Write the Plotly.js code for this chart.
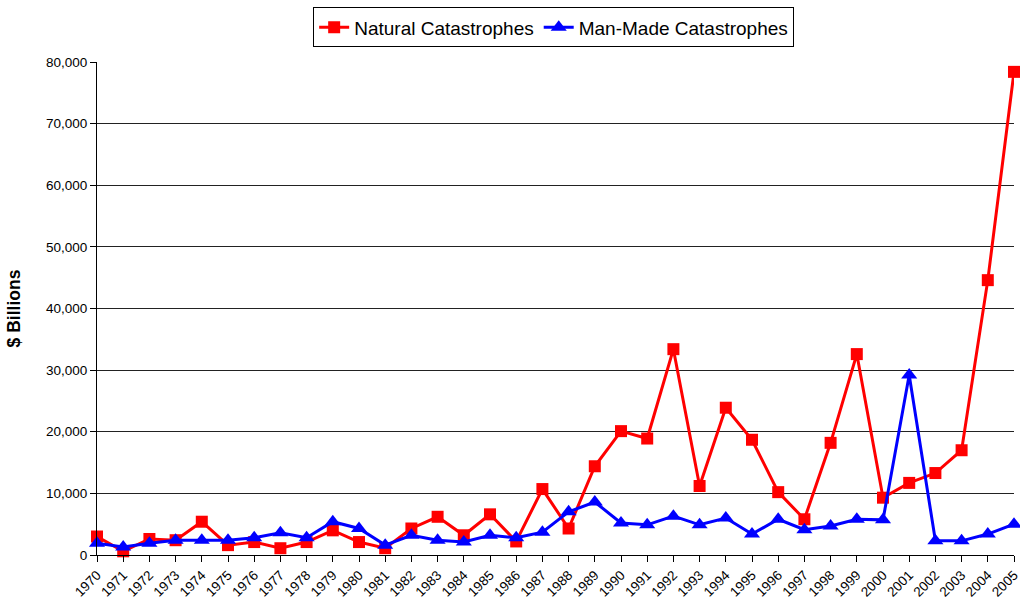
<!DOCTYPE html>
<html><head><meta charset="utf-8">
<script src="https://cdn.plot.ly/plotly-3.0.1.min.js"></script>
<style>body{margin:0;background:#fff}#chart{width:1020px;height:608px}</style>
</head><body><div id="chart"></div>
<script>
const years = ["1970","1971","1972","1973","1974","1975","1976","1977","1978","1979","1980","1981","1982","1983","1984","1985","1986","1987","1988","1989","1990","1991","1992","1993","1994","1995","1996","1997","1998","1999","2000","2001","2002","2003","2004","2005"];
const natural = [3000,600,2600,2400,5400,1600,2100,1100,2100,4000,2100,1100,4300,6200,3200,6600,2200,10700,4300,14400,20100,18900,33400,11200,23900,18700,10200,5800,18200,32600,9300,11700,13300,17000,44600,78400];
const manMade = [1900,1300,1900,2400,2400,2400,2800,3600,2800,5400,4300,1600,3200,2400,2100,3200,2800,3700,7000,8600,5200,4900,6300,4900,6000,3400,5800,4100,4700,5800,5700,29200,2300,2300,3400,5000];
const yTicks = [0,10000,20000,30000,40000,50000,60000,70000,80000];
const yTickText = ["0","10,000","20,000","30,000","40,000","50,000","60,000","70,000","80,000"];

const traces = [
  {x: years, y: natural, name: "Natural Catastrophes", type: "scatter", mode: "lines+markers",
   line: {color: "#ff0000", width: 3}, marker: {symbol: "square", size: 12, color: "#ff0000"}, cliponaxis: false},
  {x: years, y: manMade, name: "Man-Made Catastrophes", type: "scatter", mode: "lines+markers",
   line: {color: "#0000ff", width: 3}, marker: {symbol: "triangle-up", size: 14, color: "#0000ff"}, cliponaxis: false}
];
const layout = {
  width: 1020, height: 608,
  margin: {l: 97, r: 6, t: 62, b: 53},
  paper_bgcolor: "#fff", plot_bgcolor: "#fff",
  font: {family: "Liberation Sans, Arial, sans-serif", size: 13, color: "#000"},
  showlegend: true,
  legend: {orientation: "h", x: 0.498, xanchor: "center", y: 0.988, yref: "container", yanchor: "top",
    bordercolor: "#000", borderwidth: 1, bgcolor: "#fff", font: {size: 19}, tracegroupgap: 0},
  xaxis: {type: "category", range: [0, 35], tickangle: -45, ticks: "outside", ticklen: 6, tickcolor: "#000",
    showline: true, linecolor: "#000", linewidth: 1, showgrid: false, zeroline: false,
    tickfont: {size: 13.5}, automargin: false},
  yaxis: {range: [0, 80000], tickvals: yTicks, ticktext: yTickText, ticks: "outside", ticklen: 6, tickcolor: "#000",
    showline: true, linecolor: "#000", linewidth: 1, showgrid: true, gridcolor: "#222", gridwidth: 1, zeroline: false,
    tickfont: {size: 13.5}, automargin: false,
    title: {text: "<b>$ Billions</b>", font: {size: 17.5}, standoff: 20}}
};
Plotly.newPlot("chart", traces, layout, {displayModeBar: false});
</script></body></html>
